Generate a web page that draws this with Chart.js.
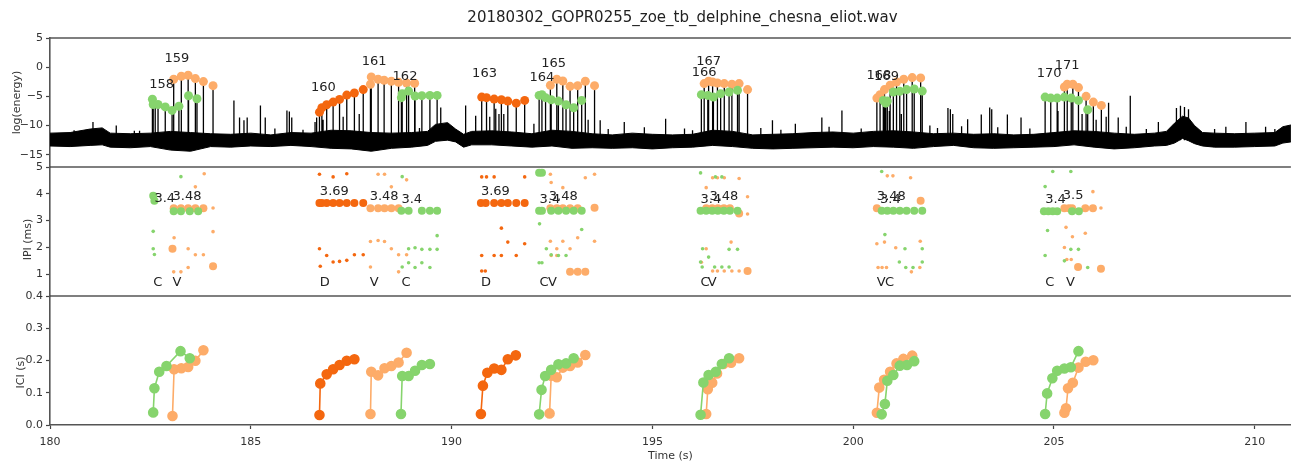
<!DOCTYPE html>
<html>
<head>
<meta charset="utf-8">
<script src="https://cdn.jsdelivr.net/npm/chart.js@4.4.0/dist/chart.umd.min.js"></script>
<style>
html, body { margin: 0; padding: 0; background: #fff; }
#wrap { width: 1297px; height: 463px; }
</style>
</head>
<body>
<div id="wrap"><canvas id="myChart" width="1297" height="463"></canvas></div>
<script>
const GREEN = '#86d46d';
const LIGHT = '#fdac69';
const DARK = '#f4670f';

const xTicks = [180, 185, 190, 195, 200, 205, 210];
const energyTicks = [-15, -10, -5, 0, 5];
const ipiTicks = [1, 2, 3, 4, 5];
const iciTicks = [0, 0.1, 0.2, 0.3, 0.4];

// background noise band of log(energy)
const bandT = [180.0, 180.5, 181.0, 181.3, 181.5, 182.0, 182.5, 183.0, 183.5, 184.0, 184.5, 185.0, 185.5, 186.0, 186.5, 187.0, 187.5, 188.0, 188.5, 189.0, 189.4, 189.6, 189.9, 190.1, 190.3, 190.5, 191.0, 191.5, 192.0, 192.5, 193.0, 193.5, 194.0, 194.5, 195.0, 195.5, 196.0, 196.5, 197.0, 197.5, 198.0, 198.5, 199.0, 199.5, 200.0, 200.5, 201.0, 201.5, 202.0, 202.5, 203.0, 203.5, 204.0, 204.5, 205.0, 205.5, 206.0, 206.5, 207.0, 207.5, 207.8, 208.0, 208.2, 208.35, 208.5, 208.7, 209.0, 209.5, 210.0, 210.5, 210.7, 210.9];
const bandHi = [-11.3, -11.2, -10.6, -10.4, -11.3, -11.4, -11.3, -11.0, -11.2, -11.4, -11.5, -11.3, -11.6, -11.2, -11.3, -10.8, -10.9, -11.2, -11.3, -11.2, -11.0, -9.8, -9.5, -10.6, -11.5, -11.0, -10.9, -11.1, -11.4, -10.8, -11.0, -11.4, -11.6, -11.3, -11.5, -11.6, -11.5, -10.8, -11.0, -11.6, -11.5, -11.4, -11.2, -11.1, -11.3, -11.0, -10.9, -11.1, -11.4, -11.3, -11.5, -11.4, -11.6, -11.5, -11.2, -10.9, -11.0, -11.3, -11.5, -11.3, -11.0, -9.6, -8.4, -8.7, -10.0, -11.2, -11.3, -11.4, -11.3, -11.2, -10.2, -9.9];
const bandLo = [-13.5, -13.6, -13.4, -13.3, -13.7, -13.8, -13.6, -14.2, -14.4, -13.6, -13.7, -13.5, -13.6, -13.4, -13.6, -13.9, -14.0, -14.4, -13.9, -13.7, -13.4, -12.7, -12.5, -12.8, -13.7, -13.3, -13.3, -13.5, -13.7, -13.5, -13.9, -13.8, -13.9, -13.8, -14.0, -13.8, -13.7, -13.4, -13.6, -13.9, -14.0, -13.9, -13.8, -13.7, -13.8, -13.6, -13.7, -13.9, -13.6, -13.4, -13.8, -13.9, -13.8, -13.7, -13.6, -13.3, -13.7, -14.0, -13.8, -13.5, -13.4, -13.0, -12.2, -12.6, -13.1, -13.5, -13.7, -13.7, -13.6, -13.5, -13.0, -12.8];

// isolated noise spikes above the band
const noiseT = [180.6, 181.07, 181.65, 182.1, 182.23, 182.62, 184.58, 184.72, 184.83, 184.91, 185.24, 185.36, 185.6, 185.9, 185.96, 186.02, 186.3, 186.6, 186.64, 186.8, 187.3, 187.7, 189.2, 189.73, 190.35, 190.6, 190.95, 191.1, 191.18, 191.3, 192.05, 193.4, 193.7, 193.9, 194.3, 194.8, 195.33, 195.8, 196.0, 197.7, 197.99, 198.2, 198.56, 199.22, 199.4, 199.72, 200.2, 200.9, 201.2, 201.91, 202.1, 202.36, 202.42, 202.48, 202.7, 202.85, 203.19, 203.4, 203.45, 203.6, 203.84, 204.18, 204.4, 205.1, 205.7, 206.05, 206.3, 206.36, 206.6, 206.8, 206.9, 207.3, 207.6, 208.05, 208.15, 208.25, 208.35, 209.0, 209.28, 209.78, 210.27, 210.5];
const noiseV = [-10.8, -9.4, -10.0, -10.9, -10.9, -7.0, -5.7, -8.6, -9.1, -8.6, -6.55, -8.6, -10.5, -7.4, -7.6, -8.6, -10.7, -9.4, -8.6, -9.0, -8.5, -8.0, -10.4, -6.9, -6.55, -8.3, -8.5, -7.1, -8.0, -8.0, -9.7, -9.0, -9.1, -10.6, -9.4, -10.3, -8.85, -10.5, -10.8, -10.4, -9.1, -10.7, -9.7, -8.6, -10.2, -7.4, -10.5, -7.5, -8.0, -10.0, -10.4, -7.0, -7.2, -8.0, -10.1, -8.9, -8.1, -6.9, -7.2, -10.3, -8.1, -8.6, -10.5, -7.5, -8.0, -9.0, -8.5, -6.1, -8.6, -10.2, -4.9, -10.6, -9.4, -7.0, -6.6, -6.8, -7.2, -10.6, -10.2, -9.4, -10.2, -10.6];

// click energies, per colour
const energyGreenT = [182.55, 182.57, 182.69, 182.87, 183.04, 183.21, 183.45, 183.66, 188.75, 188.77, 188.93, 189.09, 189.26, 189.46, 189.64, 192.18, 192.25, 192.34, 192.48, 192.66, 192.85, 193.04, 193.24, 196.22, 196.38, 196.52, 196.70, 196.91, 197.12, 200.75, 200.81, 200.85, 201.00, 201.16, 201.33, 201.52, 201.72, 204.78, 204.92, 205.08, 205.26, 205.43, 205.61, 205.84];
const energyGreenV = [-5.5, -6.4, -6.4, -6.8, -7.4, -6.7, -4.9, -5.4, -5.22, -4.53, -4.09, -4.95, -4.88, -4.83, -4.83, -4.83, -4.71, -5.22, -5.57, -5.81, -6.43, -6.95, -5.69, -4.71, -4.83, -5.12, -4.53, -4.26, -3.97, -5.69, -6.16, -5.81, -4.26, -4.14, -3.84, -3.74, -4.09, -5.12, -5.29, -5.29, -5.12, -5.29, -5.69, -7.29];
const energyLightT = [183.08, 183.27, 183.44, 183.62, 183.82, 184.06, 187.98, 188.00, 188.17, 188.32, 188.50, 188.68, 188.88, 189.08, 192.46, 192.62, 192.77, 192.95, 193.14, 193.33, 193.56, 196.29, 196.40, 196.50, 196.62, 196.79, 196.98, 197.16, 197.37, 200.59, 200.67, 200.78, 200.92, 201.08, 201.26, 201.47, 201.68, 205.26, 205.33, 205.47, 205.61, 205.80, 205.98, 206.18];
const energyLightV = [-2.07, -1.55, -1.38, -1.95, -2.47, -3.16, -2.93, -1.67, -2.07, -2.24, -2.41, -2.59, -2.71, -2.76, -3.10, -2.07, -2.36, -3.28, -3.16, -2.41, -3.16, -2.81, -2.41, -2.53, -2.71, -2.81, -2.93, -2.81, -3.84, -5.29, -4.71, -3.84, -3.10, -2.53, -2.07, -1.78, -1.84, -3.40, -2.93, -2.93, -3.50, -5.0, -5.98, -6.55];
const energyDarkT = [186.71, 186.77, 186.89, 187.05, 187.21, 187.39, 187.58, 187.80, 190.75, 190.87, 191.06, 191.24, 191.40, 191.61, 191.82];
const energyDarkV = [-7.71, -6.95, -6.43, -5.98, -5.52, -4.78, -4.43, -3.84, -5.12, -5.22, -5.47, -5.57, -5.81, -6.16, -5.69];

// train numbers above the clicks
const trainLabels = ['158', '159', '160', '161', '162', '163', '164', '165', '166', '167', '168', '169', '170', '171'];
const trainLabelT = [182.78, 183.16, 186.81, 188.07, 188.84, 190.82, 192.25, 192.54, 196.29, 196.40, 200.64, 200.83, 204.88, 205.33];
const trainLabelV = [-3.0, 1.5, -3.5, 0.9, -1.55, -1.1, -1.8, 0.6, -1.0, 0.9, -1.5, -1.6, -1.1, 0.35];

// inter-pulse intervals (ms)
const ipiGreenBigT = [182.57, 182.60, 183.08, 183.26, 183.48, 183.69, 188.75, 188.93, 189.26, 189.46, 189.64, 192.18, 192.25, 192.48, 192.66, 192.85, 193.04, 193.24, 192.18, 192.25, 196.20, 196.34, 196.49, 196.63, 196.78, 196.93, 197.12, 200.71, 200.85, 201.00, 201.16, 201.33, 201.52, 201.72, 204.75, 204.86, 204.97, 205.08, 205.45, 205.62];
const ipiGreenBigV = [3.93, 3.74, 3.35, 3.35, 3.35, 3.35, 3.37, 3.37, 3.37, 3.37, 3.37, 3.37, 3.37, 3.37, 3.37, 3.37, 3.37, 3.37, 4.79, 4.79, 3.37, 3.37, 3.37, 3.37, 3.37, 3.37, 3.37, 3.37, 3.37, 3.37, 3.37, 3.37, 3.37, 3.37, 3.35, 3.35, 3.35, 3.35, 3.35, 3.35];
const ipiLightBigT = [183.05, 183.08, 183.26, 183.44, 183.62, 183.82, 184.06, 187.98, 188.17, 188.33, 188.50, 188.68, 192.46, 192.62, 192.77, 192.95, 193.14, 193.56, 192.95, 193.14, 193.33, 196.34, 196.49, 196.63, 196.78, 196.93, 197.16, 197.37, 200.59, 201.68, 205.26, 205.37, 205.45, 205.78, 205.97, 205.60, 206.17];
const ipiLightBigV = [1.95, 3.46, 3.46, 3.46, 3.46, 3.46, 1.30, 3.46, 3.46, 3.46, 3.46, 3.46, 3.46, 3.46, 3.46, 3.46, 3.46, 3.48, 1.09, 1.09, 1.09, 3.46, 3.46, 3.46, 3.46, 3.46, 3.27, 1.12, 3.46, 3.74, 3.46, 3.46, 3.46, 3.46, 3.46, 1.27, 1.21];
const ipiDarkBigT = [186.71, 186.77, 186.89, 187.05, 187.21, 187.39, 187.58, 187.80, 190.73, 190.85, 191.06, 191.24, 191.40, 191.61, 191.82];
const ipiDarkBigV = [3.66, 3.66, 3.66, 3.66, 3.66, 3.66, 3.66, 3.66, 3.66, 3.66, 3.66, 3.66, 3.66, 3.66, 3.66];

const ipiGreenSmallT = [183.26, 182.57, 182.57, 182.60, 188.77, 188.77, 188.93, 189.09, 189.26, 189.46, 188.93, 189.09, 189.26, 189.46, 189.64, 189.64, 192.19, 192.36, 192.48, 192.66, 192.85, 193.24, 192.18, 192.25, 196.20, 196.57, 196.73, 196.25, 196.91, 197.12, 196.40, 196.20, 196.24, 196.55, 196.73, 196.91, 200.71, 200.79, 201.29, 201.72, 201.15, 201.31, 201.49, 201.72, 204.97, 205.42, 204.78, 204.84, 204.78, 205.26, 205.42, 205.61, 205.84];
const ipiGreenSmallV = [4.64, 2.60, 1.95, 1.74, 4.64, 1.27, 1.43, 1.25, 1.43, 1.25, 1.95, 1.99, 1.93, 1.93, 1.93, 2.44, 2.88, 1.95, 1.73, 1.70, 1.70, 2.67, 1.43, 1.43, 4.78, 4.63, 4.63, 1.95, 1.93, 1.93, 1.64, 1.46, 1.27, 1.27, 1.27, 1.27, 4.83, 2.48, 1.95, 1.95, 1.46, 1.25, 1.25, 1.46, 4.83, 4.83, 4.27, 2.63, 1.70, 1.50, 1.93, 1.93, 1.25];
const ipiLightSmallT = [183.84, 183.09, 183.44, 183.62, 183.82, 184.06, 184.06, 183.08, 183.26, 183.44, 183.62, 187.98, 187.98, 188.17, 188.33, 188.50, 188.68, 188.68, 188.17, 188.33, 188.50, 188.88, 188.88, 192.46, 192.48, 192.77, 193.33, 193.56, 192.46, 192.62, 192.77, 192.95, 193.14, 193.56, 192.48, 192.62, 196.50, 196.62, 196.79, 197.16, 197.37, 197.37, 196.34, 196.34, 196.50, 196.62, 196.79, 196.98, 197.16, 196.96, 196.22, 200.59, 200.78, 201.06, 201.67, 200.62, 200.72, 200.83, 201.45, 201.66, 200.85, 200.99, 201.43, 205.30, 205.46, 205.78, 205.26, 205.32, 205.43, 205.97, 206.17];
const ipiLightSmallV = [4.75, 2.36, 1.95, 1.73, 1.73, 2.59, 3.47, 1.09, 1.09, 1.25, 4.26, 1.27, 2.22, 2.26, 2.22, 1.95, 1.73, 1.09, 4.73, 4.73, 4.26, 4.52, 1.73, 4.73, 4.42, 4.23, 4.60, 4.73, 2.23, 1.95, 2.23, 1.95, 2.36, 2.23, 1.70, 1.70, 4.6, 4.6, 4.6, 4.57, 3.89, 3.25, 4.23, 1.95, 1.12, 1.12, 1.12, 1.12, 1.12, 2.20, 1.45, 2.14, 2.2, 1.99, 2.23, 1.25, 1.25, 1.25, 1.09, 1.25, 4.67, 4.67, 4.6, 2.75, 2.4, 2.53, 2.0, 1.55, 1.55, 4.08, 3.47];
const ipiDarkSmallT = [186.71, 187.05, 187.39, 186.71, 186.89, 187.05, 187.21, 187.39, 187.58, 187.80, 186.73, 190.75, 190.87, 191.06, 191.82, 191.24, 191.40, 191.82, 190.75, 191.06, 191.24, 191.61, 190.75, 190.84];
const ipiDarkSmallV = [4.73, 4.63, 4.75, 1.95, 1.70, 1.46, 1.48, 1.52, 1.73, 1.73, 1.30, 4.63, 4.63, 4.63, 4.63, 2.72, 2.20, 2.14, 1.70, 1.70, 1.70, 1.70, 1.12, 1.12];

// IPI mode labels and whale letters
const ipiLabels = ['3.4', '3.48', '3.69', '3.48', '3.4', '3.69', '3.4', '3.48', '3.4', '3.48', '3.48', '3.4', '3.4', '3.5'];
const ipiLabelT = [182.60, 183.05, 186.72, 187.96, 188.75, 190.73, 192.19, 192.42, 196.20, 196.42, 200.59, 200.67, 204.78, 205.22];
const ipiLabelV = [3.83, 3.91, 4.09, 3.91, 3.8, 4.09, 3.8, 3.91, 3.8, 3.91, 3.91, 3.8, 3.8, 3.93];
const whaleLetters = ['C', 'V', 'D', 'V', 'C', 'D', 'C', 'V', 'C', 'V', 'V', 'C', 'C', 'V'];
const whaleLetterT = [182.57, 183.05, 186.72, 187.96, 188.75, 190.73, 192.19, 192.40, 196.20, 196.38, 200.59, 200.79, 204.78, 205.30];
const letterLevel = 0.7;

// inter-click intervals (s), trains separated by null
const iciGreenT = [182.57, 182.60, 182.72, 182.90, 183.25, 183.48, null, 188.74, 188.77, 188.93, 189.09, 189.26, 189.46, null, 192.18, 192.24, 192.33, 192.48, 192.66, 192.85, 193.04, null, 196.20, 196.27, 196.40, 196.58, 196.73, 196.91, null, 200.71, 200.79, 200.85, 201.00, 201.16, 201.34, 201.52, null, 204.78, 204.83, 204.96, 205.08, 205.26, 205.42, 205.61];
const iciGreenV = [0.039, 0.114, 0.165, 0.183, 0.229, 0.207, null, 0.034, 0.152, 0.152, 0.168, 0.186, 0.189, null, 0.033, 0.109, 0.152, 0.171, 0.188, 0.191, 0.207, null, 0.032, 0.132, 0.155, 0.165, 0.189, 0.207, null, 0.033, 0.065, 0.137, 0.155, 0.184, 0.186, 0.198, null, 0.034, 0.098, 0.145, 0.168, 0.175, 0.179, 0.229];
const iciLightT = [183.05, 183.09, 183.27, 183.44, 183.62, 183.82, null, 187.98, 188.00, 188.17, 188.33, 188.50, 188.68, 188.88, null, 192.44, 192.48, 192.62, 192.77, 192.95, 193.14, 193.33, null, 196.34, 196.38, 196.49, 196.61, 196.77, 196.96, 197.16, null, 200.59, 200.65, 200.77, 200.92, 201.08, 201.25, 201.47, null, 205.26, 205.30, 205.35, 205.47, 205.61, 205.79, 205.98];
const iciLightV = [0.028, 0.173, 0.176, 0.180, 0.199, 0.232, null, 0.034, 0.165, 0.154, 0.176, 0.183, 0.194, 0.224, null, 0.036, 0.153, 0.148, 0.178, 0.183, 0.194, 0.217, null, 0.034, 0.111, 0.131, 0.160, 0.189, 0.193, 0.207, null, 0.038, 0.116, 0.140, 0.165, 0.191, 0.205, 0.215, null, 0.038, 0.052, 0.114, 0.131, 0.178, 0.196, 0.201];
const iciDarkT = [186.71, 186.73, 186.89, 187.05, 187.21, 187.39, 187.58, null, 190.73, 190.78, 190.89, 191.06, 191.24, 191.40, 191.60];
const iciDarkV = [0.031, 0.129, 0.157, 0.173, 0.186, 0.199, 0.204, null, 0.034, 0.122, 0.162, 0.175, 0.171, 0.204, 0.216];

const fileTitle = '20180302_GOPR0255_zoe_tb_delphine_chesna_eliot.wav';
const FONT = '"DejaVu Sans", sans-serif';

function pts(T, V) {
    return T.map((t, i) => ({ x: t === null ? T[i - 1] : t, y: V[i] }));
}

// vertical stems from the noise floor up to each value
function stems(T, V, base) {
    const out = [];
    T.forEach((t, i) => {
        out.push({ x: t, y: base }, { x: t, y: V[i] }, { x: t, y: null });
    });
    return out;
}

function dots(data, color, r, axis) {
    return { data: data, yAxisID: axis, backgroundColor: color, borderColor: color, borderWidth: 0, pointRadius: r, showLine: false };
}

function iciLine(T, V, color) {
    return { data: pts(T, V), yAxisID: 'yC', backgroundColor: color, borderColor: color, borderWidth: 1.6, pointRadius: 4.5, showLine: true, spanGaps: false };
}

const allT = energyGreenT.concat(energyLightT, energyDarkT, noiseT);
const allV = energyGreenV.concat(energyLightV, energyDarkV, noiseV);

function fixedTicks(list) {
    return function (scale) { scale.ticks = list.map(v => ({ value: v })); };
}

function leftAxis(min, max, list, fmt) {
    return {
        type: 'linear', position: 'left', stack: 'panels', stackWeight: 1,
        min: min, max: max,
        afterBuildTicks: fixedTicks(list),
        afterFit: function (scale) { scale.width = 50; },
        grid: { drawOnChartArea: false, drawTicks: true, tickLength: 4, color: '#444', tickWidth: 1.2 },
        border: { display: true, color: '#555', width: 1.6 },
        ticks: { color: '#333', font: { family: FONT, size: 11 }, padding: 3, callback: fmt }
    };
}

const annotate = {
    id: 'annotate',
    afterDatasetsDraw(chart) {
        const { ctx, chartArea, scales } = chart;
        const x = scales.x;
        ctx.save();

        // top spine of each panel
        ctx.strokeStyle = '#555';
        ctx.lineWidth = 1.6;
        ['yE', 'yP', 'yC'].forEach(id => {
            ctx.beginPath();
            ctx.moveTo(chartArea.left, scales[id].top);
            ctx.lineTo(chartArea.right, scales[id].top);
            ctx.stroke();
        });

        ctx.fillStyle = '#222';
        ctx.font = '13px ' + FONT;
        ctx.textAlign = 'center';
        ctx.textBaseline = 'middle';
        trainLabels.forEach((txt, i) => {
            ctx.fillText(txt, x.getPixelForValue(trainLabelT[i]), scales.yE.getPixelForValue(trainLabelV[i]));
        });

        ctx.textAlign = 'left';
        ipiLabels.forEach((txt, i) => {
            ctx.fillText(txt, x.getPixelForValue(ipiLabelT[i]), scales.yP.getPixelForValue(ipiLabelV[i]));
        });
        whaleLetters.forEach((txt, i) => {
            ctx.fillText(txt, x.getPixelForValue(whaleLetterT[i]), scales.yP.getPixelForValue(letterLevel));
        });

        // y axis titles
        ctx.fillStyle = '#333';
        ctx.font = '11px ' + FONT;
        ctx.textAlign = 'center';
        const yTitles = [['log(energy)', 'yE', 17, 0], ['IPI (ms)', 'yP', 28, 8], ['ICI (s)', 'yC', 21, 12]];
        yTitles.forEach(([txt, id, px, dy]) => {
            const s = scales[id];
            ctx.save();
            ctx.translate(px, (s.top + s.bottom) / 2 + dy);
            ctx.rotate(-Math.PI / 2);
            ctx.fillText(txt, 0, 0);
            ctx.restore();
        });

        // file name title
        ctx.fillStyle = '#222';
        ctx.font = '15px ' + FONT;
        ctx.fillText(fileTitle, (chartArea.left + chartArea.right) / 2 + 12, 18);
        ctx.restore();
    }
};

const ctx = document.getElementById('myChart').getContext('2d');
const myChart = new Chart(ctx, {
    type: 'scatter',
    data: {
        datasets: [
            dots(pts(energyGreenT, energyGreenV), GREEN, 4.5, 'yE'),
            dots(pts(energyLightT, energyLightV), LIGHT, 4.5, 'yE'),
            dots(pts(energyDarkT, energyDarkV), DARK, 4.5, 'yE'),
            { data: stems(allT, allV, -12.5), yAxisID: 'yE', borderColor: '#000', borderWidth: 1.3, pointRadius: 0, showLine: true, spanGaps: false, order: 5 },
            { data: pts(bandT, bandHi), yAxisID: 'yE', borderColor: '#000', backgroundColor: '#000', borderWidth: 1, pointRadius: 0, showLine: true, fill: '+1', order: 6 },
            { data: pts(bandT, bandLo), yAxisID: 'yE', borderColor: '#000', borderWidth: 1, pointRadius: 0, showLine: true, order: 6 },
            dots(pts(ipiGreenBigT, ipiGreenBigV), GREEN, 4, 'yP'),
            dots(pts(ipiLightBigT, ipiLightBigV), LIGHT, 4, 'yP'),
            dots(pts(ipiDarkBigT, ipiDarkBigV), DARK, 4, 'yP'),
            dots(pts(ipiGreenSmallT, ipiGreenSmallV), GREEN, 1.8, 'yP'),
            dots(pts(ipiLightSmallT, ipiLightSmallV), LIGHT, 1.8, 'yP'),
            dots(pts(ipiDarkSmallT, ipiDarkSmallV), DARK, 1.8, 'yP'),
            iciLine(iciGreenT, iciGreenV, GREEN),
            iciLine(iciLightT, iciLightV, LIGHT),
            iciLine(iciDarkT, iciDarkV, DARK)
        ]
    },
    options: {
        responsive: false,
        animation: false,
        events: [],
        layout: { padding: { top: 38, left: 0, right: 0, bottom: 0 } },
        plugins: { legend: { display: false }, tooltip: { enabled: false }, title: { display: false } },
        scales: {
            yC: leftAxis(0, 0.4, iciTicks, v => v.toFixed(1)),
            yP: leftAxis(0.19, 5, ipiTicks, v => String(v)),
            yE: leftAxis(-17.1, 5, energyTicks, v => (v < 0 ? '\u2212' + Math.abs(v) : String(v))),
            x: {
                type: 'linear', position: 'bottom',
                min: 180, max: 210.9,
                afterBuildTicks: fixedTicks(xTicks),
                afterFit: function (scale) { scale.height = 38; },
                grid: { drawOnChartArea: false, drawTicks: true, tickLength: 4, color: '#444', tickWidth: 1.2 },
                border: { display: true, color: '#555', width: 1.6 },
                ticks: { color: '#333', font: { family: FONT, size: 11 }, padding: 7, callback: v => String(v) },
                title: { display: true, text: 'Time (s)', color: '#333', font: { family: FONT, size: 11 }, padding: { top: 0, bottom: 0 } }
            }
        }
    },
    plugins: [annotate]
});
</script>
</body>
</html>
